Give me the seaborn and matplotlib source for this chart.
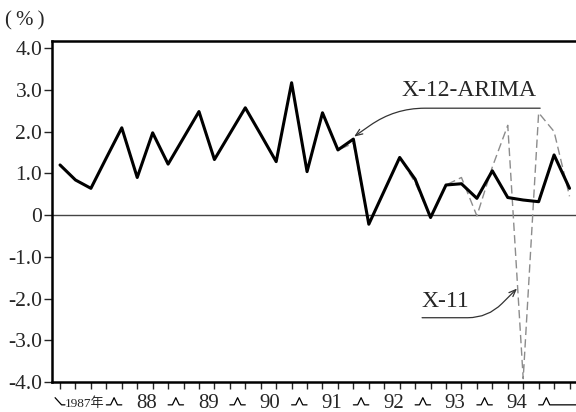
import matplotlib
matplotlib.use("Agg")
import matplotlib.pyplot as plt
import seaborn as sns
import pandas as pd
import numpy as np

# quarterly growth rates, 1987 Q1 - 1995 Q2 (%)
x12_arima = [1.20, 0.84, 0.64, 1.37, 2.09, 0.90, 1.97, 1.22, 1.85, 2.48,
             1.33, 1.95, 2.57, 1.93, 1.28, 3.17, 1.04, 2.45, 1.56, 1.82,
             -0.22, 0.58, 1.38, 0.86, -0.06, 0.72, 0.75, 0.40, 1.06, 0.42,
             0.36, 0.32, 1.44, 0.64]
x11 = [1.20, 0.84, 0.64, 1.37, 2.09, 0.90, 1.97, 1.22, 1.85, 2.48,
       1.33, 1.95, 2.57, 1.93, 1.28, 3.17, 1.04, 2.45, 1.56, 1.72,
       -0.22, 0.58, 1.38, 0.78, -0.06, 0.72, 0.90, -0.02, 1.15, 2.15,
       -3.92, 2.45, 2.00, 0.45]
year_labels = ["1987年", "88", "89", "90", "91", "92", "93", "94"]
y_ticks = [4.0, 3.0, 2.0, 1.0, 0.0, -1.0, -2.0, -3.0, -4.0]

df = pd.DataFrame({"q": np.arange(len(x12_arima)),
                   "X-12-ARIMA": x12_arima, "X-11": x11})

sns.set_style("white")
plt.rcParams["font.family"] = ["Liberation Serif", "DejaVu Serif", "Noto Sans CJK JP"]
plt.rcParams["axes.unicode_minus"] = False

fig = plt.figure(figsize=(5.76, 4.12), dpi=100)
ax = fig.add_axes([52 / 576, 30 / 412, 1 - 52 / 576, 341 / 412])

ax.axhline(0, color="#444444", lw=1.0, zorder=1)
sns.lineplot(data=df, x="q", y="X-11", ax=ax, color="#8c8c8c", lw=1.0, zorder=2)
ax.lines[-1].set_dashes((6, 3))
sns.lineplot(data=df, x="q", y="X-12-ARIMA", ax=ax, color="black", lw=2.2, zorder=3)

ax.set_xlim(-0.52, 33.42)
ax.set_ylim(-4.0, 4.17)
ax.set_xlabel("")
ax.set_ylabel("")

for side in ["left", "bottom", "top"]:
    ax.spines[side].set_visible(True)
    ax.spines[side].set_color("black")
    ax.spines[side].set_linewidth(1.8)
ax.spines["right"].set_visible(False)

ax.set_xticks(df["q"])
ax.set_xticklabels([])
ax.set_yticks(y_ticks)
ax.set_yticklabels(["0" if v == 0 else f"{v:.1f}" for v in y_ticks])
ax.tick_params(axis="x", direction="out", length=5, width=1, bottom=True)
ax.tick_params(axis="y", direction="out", length=6, width=1, left=True,
               labelsize=15.5, pad=1)

# year labels and bracket marks under the axis
tr = ax.get_xaxis_transform()
peak, base = -0.046, -0.067
for k, lab in enumerate(year_labels):
    xc = 1.6 + 4 * k
    ax.text(xc, -0.063, lab, transform=tr, ha="center", va="center",
            fontsize=9.5 if k == 0 else 15, clip_on=False)
ax.plot([-0.32, 0.1, 0.32], [peak, base, base], transform=tr, color="black",
        lw=0.9, clip_on=False)
for k in range(len(year_labels)):
    b = 3.5 + 4 * k
    xs = [b - 0.5, b - 0.22, b, b + 0.22, b + 0.5]
    if k == len(year_labels) - 1:
        xs[-1] = 34.0
    ax.plot(xs, [base, base, peak, base, base], transform=tr, color="black",
            lw=0.9, clip_on=False)

# annotations
arrow = dict(arrowstyle="->,head_length=0.5,head_width=0.2", color="#333333",
             lw=0.9, shrinkA=0, shrinkB=0)
ax.text(26.5, 2.99, "X-12-ARIMA", ha="center", va="center", fontsize=17)
ax.annotate("", xy=(19.05, 1.88), xytext=(31.1, 2.56),
            arrowprops=dict(connectionstyle="angle,angleA=0,angleB=35,rad=30", **arrow))
ax.text(24.95, -2.06, "X-11", ha="center", va="center", fontsize=17)
ax.annotate("", xy=(29.6, -1.76), xytext=(23.45, -2.46),
            arrowprops=dict(connectionstyle="angle,angleA=0,angleB=45,rad=20", **arrow))

fig.text(25 / 576, 1 - 21 / 412, "(\u2009%\u2009)", ha="center", va="center",
         fontsize=15)

fig.savefig("out.png", dpi=100)
